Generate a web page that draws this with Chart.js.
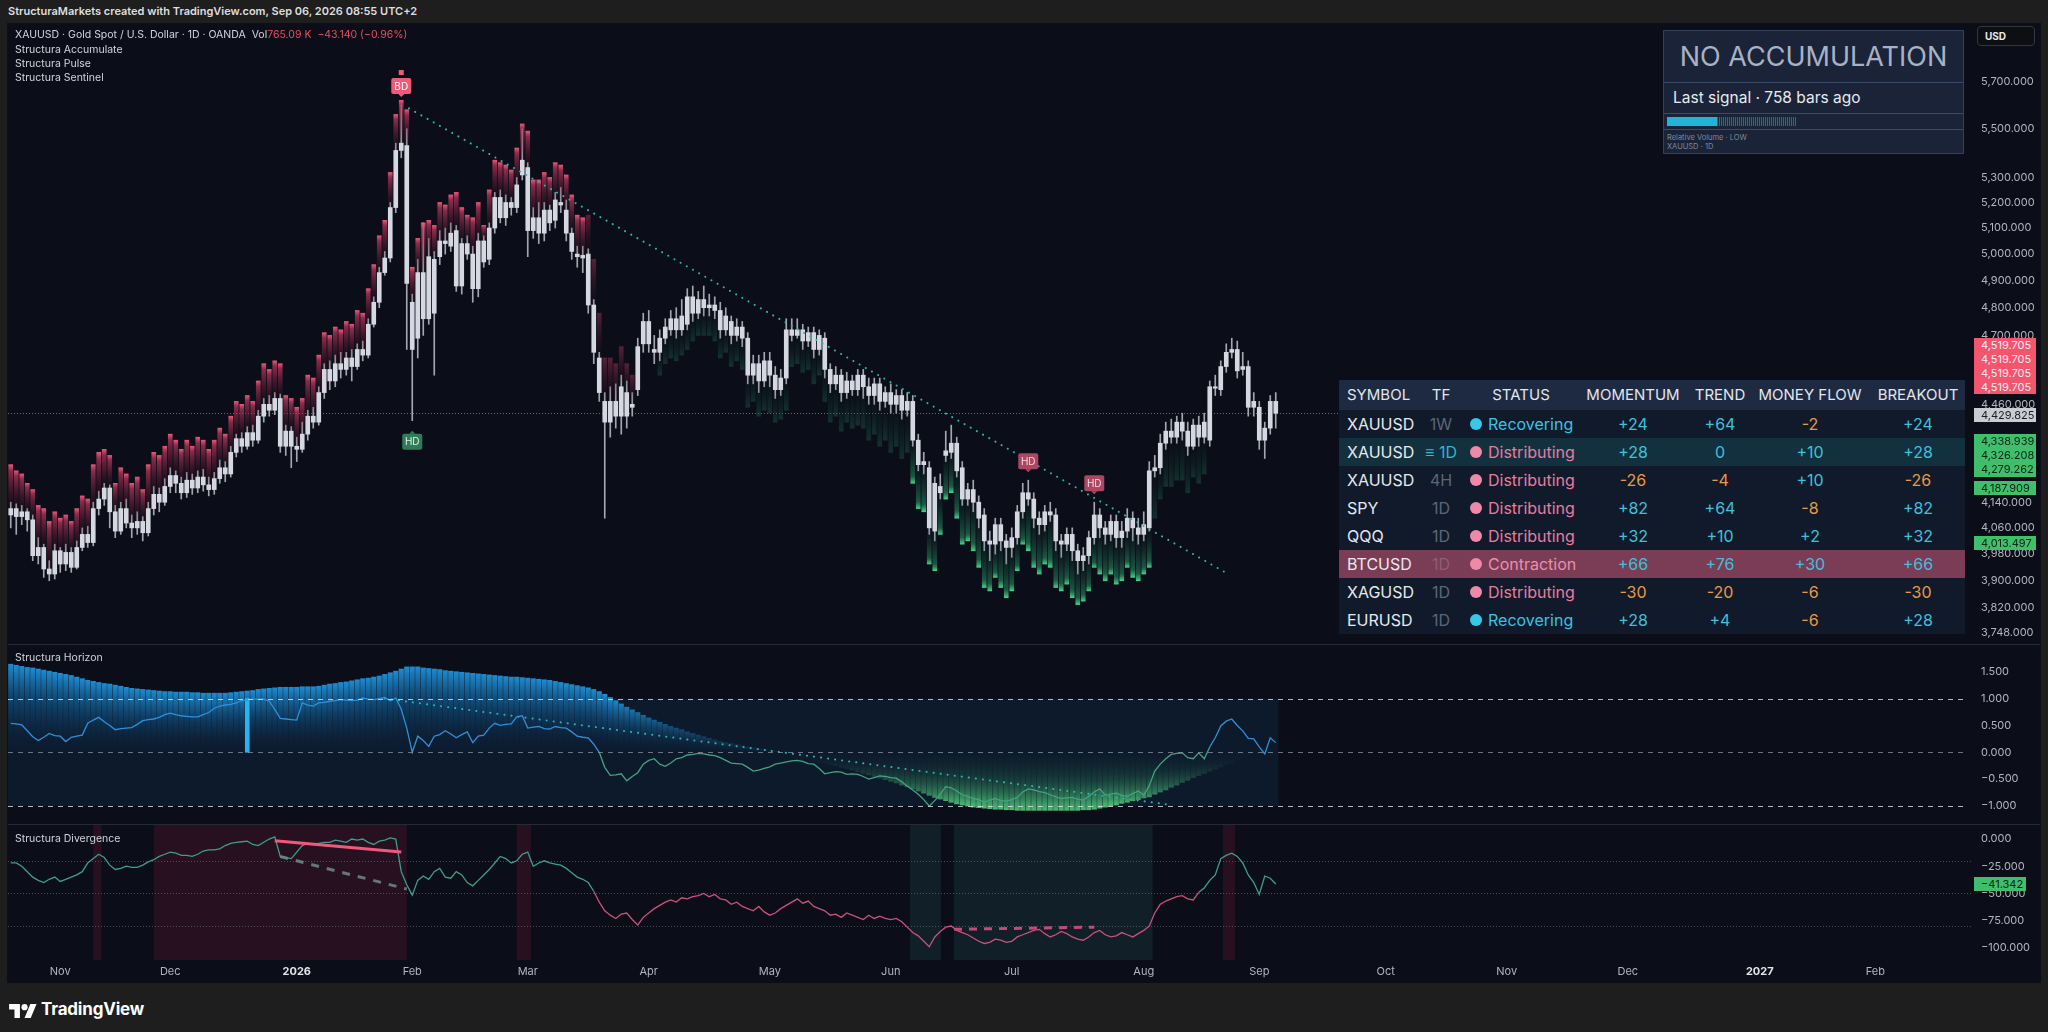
<!DOCTYPE html>
<html>
<head>
<meta charset="utf-8">
<title>XAUUSD · Structura</title>
<script src="https://cdn.jsdelivr.net/npm/chart.js@4.4.1/dist/chart.umd.min.js"></script>
<style>
  body { margin: 0; width: 2048px; height: 1032px; background: #1e1e1f; position: relative; overflow: hidden;
         font-family: Inter, "Noto Sans", sans-serif; color: #d1d4dc; }
  .abs { position: absolute; }
  .pane { position: absolute; left: 8px; width: 2032px; }
  .sep { position: absolute; left: 8px; width: 2032px; height: 1px; background: #252a36; }
  .legend { position: absolute; left: 15px; font-size: 10.5px; line-height: 14px; color: #d1d4dc; white-space: nowrap; }
  .tag { position: absolute; left: 1974px; width: 62px; font-size: 11px; line-height: 14px; padding-left: 7px; box-sizing: border-box; }
  .cell { position: absolute; white-space: nowrap; }
</style>
</head>
<body>
<div class="abs" style="left:8px;top:4px;font-size:11px;font-weight:600;color:#dedede;">StructuraMarkets created with TradingView.com, Sep 06, 2026 08:55 UTC+2</div>
<div class="abs" style="left:7px;top:23px;width:2034px;height:960px;background:#0b0e18;"></div>

<div class="pane" style="top:24px;height:621px;"><canvas id="mainChart"></canvas></div>
<div class="pane" style="top:645px;height:180px;"><canvas id="horizonChart"></canvas></div>
<div class="pane" style="top:825px;height:157px;"><canvas id="divChart"></canvas></div>
<div class="sep" style="top:644px;"></div>
<div class="sep" style="top:824px;"></div>

<div class="legend" style="top:28px;">XAUUSD · Gold Spot / U.S. Dollar · 1D · OANDA&nbsp; Vol<span style="color:#f04a5f">765.09 K&nbsp;&nbsp;−43.140 (−0.96%)</span></div>
<div class="legend" style="top:43px;">Structura Accumulate</div>
<div class="legend" style="top:57px;">Structura Pulse</div>
<div class="legend" style="top:71px;">Structura Sentinel</div>
<div class="legend" style="top:651px;">Structura Horizon</div>
<div class="legend" style="top:832px;">Structura Divergence</div>

<div class="abs" style="left:1977px;top:26px;width:58px;height:20px;box-sizing:border-box;border:1px solid #34373f;border-radius:4px;background:#0e0f13;font-size:10px;font-weight:700;color:#e8e8e8;line-height:18px;padding-left:7px;">USD</div>

<div class="abs" style="left:1663px;top:30px;width:301px;height:124px;box-sizing:border-box;background:#1a2337;border:1px solid #33415c;">
  <div style="height:51px;border-bottom:1px solid #3b4a66;font-size:27px;color:#a6b2c6;text-align:center;line-height:51px;">NO ACCUMULATION</div>
  <div style="height:30px;border-bottom:1px solid #3b4a66;font-size:15.5px;color:#e7eaf0;line-height:30px;padding-left:9px;">Last signal · 758 bars ago</div>
  <div style="height:15px;border-bottom:1px solid #3b4a66;position:relative;">
    <div class="abs" style="left:3px;top:3px;width:50px;height:9px;background:#22b4d6;"></div>
    <div class="abs" style="left:53px;top:3px;width:80px;height:9px;background:repeating-linear-gradient(90deg,#1f6f88 0 1px,#15293b 1px 2px);"></div>
  </div>
  <div style="font-size:7.5px;color:#7f899c;line-height:9px;padding:3px 3px;">Relative Volume · LOW<br>XAUUSD · 1D</div>
</div>

<div id="table" class="abs" style="left:1339px;top:380px;width:626px;height:256px;"></div>

<div class="tag" style="top:338px;height:56px;background:#f2566e;color:#ffe9ee;">4,519.705<br>4,519.705<br>4,519.705<br>4,519.705</div>
<div class="tag" style="top:408px;height:14px;background:#c9ccd3;color:#1b1d22;">4,429.825</div>
<div class="tag" style="top:434px;height:43px;background:#3fbf6c;color:#0c2414;">4,338.939<br>4,326.208<br>4,279.262</div>
<div class="tag" style="top:481px;height:14px;background:#3fbf6c;color:#0c2414;">4,187.909</div>
<div class="tag" style="top:536px;height:14px;background:#3fbf6c;color:#0c2414;">4,013.497</div>
<div class="tag" style="top:877px;height:14px;width:52px;background:#3fbf6c;color:#0c2414;">−41.342</div>

<div class="abs" style="left:9px;top:999px;display:flex;align-items:center;gap:4px;">
  <svg width="28" height="17" viewBox="0 0 36 22"><path fill="#fff" d="M14 22H7V11H0V4h14v18zM28 22h-8l7.5-18h8L28 22z"/><circle fill="#fff" cx="20" cy="8" r="4"/></svg>
  <span style="font-size:17px;font-weight:700;color:#fff;letter-spacing:-0.2px;">TradingView</span>
</div>

<script>
// ---- price data (daily bars, index 0 = late Oct 2025) ----
const opens = [4100,4120,4095,4110,4085,3975,4000,3935,3920,3990,3950,3985,3940,4000,4040,4015,4120,4150,4185,4110,
4050,4120,4075,4060,4080,4045,4120,4165,4140,4190,4225,4200,4170,4210,4185,4220,4195,4180,4215,4250,
4230,4300,4345,4320,4365,4340,4420,4460,4440,4480,4320,4370,4320,4310,4360,4420,4400,4500,4580,4540,
4600,4580,4620,4590,4650,4630,4740,4820,4930,4985,5180,5410,5430,4820,4690,4930,4760,4980,4990,5050,
5030,5090,4880,5040,5000,4870,5050,4980,5100,5220,5140,5200,5180,5310,5340,5090,5140,5080,5170,5130,
5200,5170,5080,5000,4995,5000,4810,4620,4470,4400,4470,4420,4500,4450,4510,4670,4750,4650,4640,4690,
4720,4760,4720,4740,4840,4780,4830,4800,4810,4790,4720,4750,4700,4730,4690,4560,4600,4540,4610,4560,
4510,4550,4720,4700,4720,4680,4710,4650,4690,4580,4530,4560,4500,4540,4510,4560,4520,4490,4530,4470,
4500,4460,4490,4440,4470,4340,4260,4250,4200,4190,4290,4300,4330,4250,4150,4180,4140,4100,4020,4010,
4070,4020,4000,4030,4110,4170,4150,4090,4070,4110,4100,4020,4010,4040,3990,3960,3975,4030,4100,4060,
4040,4080,4030,4050,4090,4060,4040,4060,4240,4250,4330,4370,4350,4400,4370,4320,4390,4350,4340,4520,
4510,4590,4640,4650,4580,4590,4450,4450,4340,4380,4470];
const highs = [4140,4135,4130,4120,4100,4030,4010,3960,4010,4000,4010,4000,4020,4060,4065,4140,4175,4200,4195,4130,
4140,4150,4100,4110,4095,4140,4190,4185,4215,4250,4240,4220,4235,4230,4240,4245,4220,4235,4275,4270,
4320,4360,4365,4385,4390,4440,4480,4490,4500,4495,4390,4385,4350,4400,4440,4450,4520,4600,4610,4630,
4640,4640,4650,4670,4680,4760,4840,4950,5010,5200,5440,5600,5500,4850,4980,5120,5060,5010,5090,5100,
5120,5110,5060,5070,5030,5080,5070,5120,5240,5250,5230,5220,5300,5500,5360,5180,5200,5200,5190,5240,
5260,5210,5100,5030,5030,5020,4830,4640,4500,4520,4530,4560,4540,4500,4690,4780,4790,4700,4720,4760,
4790,4800,4830,4870,4880,4860,4880,4850,4840,4820,4800,4770,4760,4750,4710,4630,4630,4640,4640,4590,
4580,4760,4760,4760,4740,4730,4730,4720,4710,4600,4590,4580,4570,4560,4580,4580,4550,4550,4550,4520,
4530,4510,4510,4500,4490,4360,4300,4270,4220,4230,4370,4390,4350,4270,4200,4210,4160,4120,4050,4090,
4090,4040,4060,4130,4200,4210,4170,4110,4130,4140,4120,4040,4060,4060,4010,4000,4050,4140,4120,4080,
4100,4100,4080,4120,4110,4090,4110,4270,4290,4360,4400,4410,4420,4430,4400,4410,4420,4430,4540,4560,
4610,4670,4690,4680,4640,4610,4500,4470,4400,4490,4500];
const lows = [4060,4040,4070,4050,3960,3950,3910,3900,3905,3925,3930,3925,3935,3990,4000,4005,4100,4130,4060,4030,
4040,4060,4030,4040,4020,4035,4100,4110,4130,4170,4170,4150,4155,4165,4170,4175,4160,4165,4200,4205,
4220,4285,4300,4310,4320,4330,4400,4420,4425,4300,4290,4250,4270,4300,4340,4380,4390,4480,4510,4520,
4550,4560,4540,4580,4610,4620,4730,4800,4920,4970,5160,5380,4650,4405,4620,4700,4740,4560,4960,5000,
5010,4860,4850,4980,4820,4840,4950,4960,5080,5120,5110,5150,5160,5290,4990,5060,5040,5050,5090,5100,
5160,5050,4980,4950,4930,4780,4600,4470,4090,4350,4380,4360,4380,4420,4490,4640,4640,4600,4610,4670,
4700,4690,4700,4720,4750,4760,4770,4770,4760,4690,4700,4670,4680,4660,4530,4530,4500,4520,4520,4480,
4490,4530,4680,4690,4650,4660,4620,4630,4550,4500,4510,4470,4480,4490,4490,4480,4460,4460,4440,4450,
4430,4430,4410,4420,4320,4240,4230,4040,4020,4150,4270,4280,4220,4130,4130,4110,4060,3990,3960,3980,
3990,3950,3970,4010,4090,4130,4060,4040,4050,4080,3990,3970,3990,3960,3920,3930,3950,4010,4030,4010,
4020,4000,4000,4030,4020,4010,4020,4050,4220,4230,4310,4330,4330,4340,4290,4310,4320,4330,4320,4490,
4490,4570,4620,4550,4560,4420,4420,4310,4280,4360,4380];
const closes = [4120,4095,4110,4085,3975,4000,3935,3920,3990,3950,3985,3940,4000,4040,4015,4120,4150,4185,4110,4050,
4120,4075,4060,4080,4045,4120,4165,4140,4190,4225,4200,4170,4210,4185,4220,4195,4180,4215,4250,4230,
4300,4345,4320,4365,4340,4420,4460,4440,4480,4320,4370,4320,4310,4360,4420,4400,4500,4580,4540,4600,
4580,4620,4590,4650,4630,4740,4820,4930,4985,5180,5410,5440,4890,4650,4930,4760,4990,4780,5050,5040,
5080,4880,5040,5000,4870,5050,4970,5100,5220,5140,5200,5180,5270,5370,5090,5140,5080,5170,5120,5210,
5190,5080,5010,4990,4985,4810,4640,4500,4400,4470,4420,4520,4420,4460,4660,4750,4670,4640,4690,4730,
4760,4720,4770,4840,4780,4830,4800,4810,4790,4720,4770,4700,4730,4690,4560,4600,4540,4610,4560,4510,
4550,4720,4700,4720,4680,4710,4650,4700,4580,4530,4560,4500,4540,4510,4560,4520,4490,4530,4470,4500,
4460,4490,4440,4470,4340,4260,4270,4060,4050,4170,4305,4330,4240,4150,4180,4140,4090,4020,4010,4070,
4020,4000,4030,4110,4170,4150,4090,4070,4110,4100,4020,4010,4040,3990,3960,3975,4030,4100,4060,4040,
4080,4030,4050,4090,4060,4040,4070,4240,4250,4330,4370,4350,4400,4370,4320,4390,4350,4400,4520,4515,
4590,4640,4650,4575,4590,4450,4470,4340,4380,4470,4429.825];

// Accumulate shading: pink caps above candles (from bar 0), green floors below candles (from bar 118)
const sellShadeFrom = 0;
const sellShadeTop = [4260,4240,4230,4200,4180,4130,4120,4080,4110,4090,4100,4080,4120,4160,4150,4260,4300,4310,4290,4200,
4250,4230,4200,4220,4180,4260,4300,4290,4320,4360,4340,4310,4340,4320,4350,4340,4310,4340,4380,4360,
4420,4470,4460,4490,4470,4540,4600,4580,4610,4600,4490,4480,4450,4480,4560,4550,4630,4710,4700,4730,
4720,4750,4740,4790,4780,4870,4960,5070,5130,5320,5560,5620,5580,4950,5060,5120,5130,5110,5200,5190,
5230,5240,5180,5150,5140,5200,5110,5250,5370,5360,5350,5330,5420,5520,5490,5290,5290,5320,5300,5360,
5350,5310,5230,5150,5140,5150,4980,4780,4620,4620,4600,4660,4600,4560];
const buyShadeFrom = 118;
const buyShadeBottom = [4560,4600,4620,4610,4630,4650,4680,4700,4700,4700,4680,4620,4640,4590,4610,4580,4450,4470,4420,4440,
4430,4400,4410,4440,4590,4600,4570,4580,4530,4560,4470,4400,4420,4370,4400,4380,4390,4380,4340,4360,
4320,4340,4300,4320,4280,4300,4200,4120,4110,3950,3930,4040,4150,4170,4090,4010,4020,3990,3940,3880,
3870,3910,3880,3850,3870,3930,4010,3990,3940,3920,3950,3940,3880,3870,3890,3850,3830,3840,3870,3940,
3920,3900,3920,3890,3900,3940,3910,3900,3920,3940,4090,4150,4190,4190,4210,4210,4170,4220,4200,4230];

const priceTicks = [5700,5500,5300,5200,5100,5000,4900,4800,4700,4460,4140,4060,3980,3900,3820,3748];
const trendBars = [72.4, 220.6];
const trendPrices = [5586, 3927];
const markerBars = [71, 73, 185, 197];
const markerText = ['BD', 'HD', 'HD', 'HD'];
const markerSide = ['top', 'bottom', 'top', 'top'];

// ---- Structura Horizon ----
const horizonHist = [1.64,1.62,1.60,1.58,1.57,1.55,1.53,1.51,1.49,1.47,1.45,1.43,1.40,1.37,1.34,1.32,1.30,1.28,1.27,1.25,
1.23,1.21,1.19,1.18,1.17,1.16,1.15,1.14,1.13,1.13,1.12,1.12,1.12,1.11,1.11,1.10,1.10,1.10,1.10,1.10,
1.11,1.12,1.13,1.14,1.15,1.17,1.18,1.19,1.20,1.21,1.21,1.21,1.21,1.22,1.22,1.22,1.23,1.25,1.27,1.28,
1.30,1.31,1.33,1.35,1.37,1.38,1.40,1.42,1.45,1.48,1.51,1.55,1.59,1.59,1.59,1.57,1.56,1.55,1.54,1.52,
1.51,1.50,1.49,1.48,1.47,1.46,1.45,1.44,1.43,1.42,1.41,1.40,1.40,1.39,1.38,1.37,1.36,1.35,1.34,1.32,
1.30,1.28,1.26,1.24,1.22,1.20,1.17,1.13,1.08,1.02,0.96,0.90,0.84,0.79,0.74,0.69,0.64,0.60,0.56,0.52,
0.48,0.45,0.42,0.38,0.35,0.32,0.29,0.26,0.23,0.20,0.18,0.16,0.14,0.12,0.10,0.08,0.06,0.05,0.03,0.02,
-0.01,-0.03,-0.05,-0.08,-0.10,-0.13,-0.15,-0.18,-0.20,-0.23,-0.25,-0.28,-0.30,-0.33,-0.36,-0.39,-0.42,-0.45,-0.48,-0.51,
-0.54,-0.57,-0.61,-0.64,-0.68,-0.72,-0.76,-0.80,-0.84,-0.87,-0.90,-0.93,-0.96,-0.98,-1.00,-1.02,-1.03,-1.04,-1.05,-1.06,
-1.06,-1.07,-1.07,-1.08,-1.08,-1.08,-1.08,-1.08,-1.08,-1.08,-1.08,-1.08,-1.08,-1.08,-1.08,-1.07,-1.07,-1.06,-1.04,-1.02,
-1.00,-0.98,-0.95,-0.93,-0.90,-0.88,-0.85,-0.83,-0.78,-0.74,-0.70,-0.65,-0.61,-0.56,-0.52,-0.47,-0.43,-0.39,-0.35,-0.31,
-0.27,-0.22,-0.18,-0.13,-0.09,-0.05,-0.02,0,0,0,0];
const horizonLine = [0.54,0.53,0.51,0.40,0.29,0.22,0.28,0.35,0.31,0.30,0.20,0.28,0.30,0.32,0.54,0.60,0.65,0.57,0.50,0.42,
0.44,0.45,0.46,0.52,0.59,0.61,0.62,0.65,0.70,0.73,0.70,0.68,0.67,0.66,0.66,0.70,0.74,0.82,0.86,0.88,
0.89,0.92,0.96,0.97,0.99,0.99,0.99,0.95,0.80,0.63,0.62,0.61,0.60,0.92,0.88,0.86,0.92,0.93,0.95,0.96,
0.98,0.97,0.96,0.97,1.01,0.99,0.98,1.00,1.02,0.96,1.01,0.80,0.45,0.00,0.30,0.22,0.11,0.30,0.33,0.40,
0.34,0.27,0.33,0.38,0.18,0.30,0.32,0.45,0.54,0.50,0.52,0.53,0.66,0.68,0.45,0.47,0.48,0.44,0.43,0.48,
0.46,0.45,0.38,0.30,0.28,0.27,0.15,0.00,-0.28,-0.43,-0.42,-0.40,-0.53,-0.45,-0.38,-0.22,-0.15,-0.12,-0.22,-0.26,
-0.20,-0.12,-0.10,-0.05,-0.04,-0.02,-0.03,-0.05,-0.06,-0.10,-0.15,-0.20,-0.21,-0.22,-0.28,-0.35,-0.33,-0.30,-0.27,-0.22,
-0.20,-0.18,-0.16,-0.15,-0.17,-0.21,-0.22,-0.30,-0.40,-0.38,-0.36,-0.37,-0.41,-0.40,-0.41,-0.45,-0.50,-0.47,-0.44,-0.45,
-0.47,-0.48,-0.55,-0.63,-0.70,-0.78,-0.88,-1.00,-0.90,-0.78,-0.64,-0.66,-0.72,-0.79,-0.82,-0.86,-0.88,-0.93,-0.89,-0.86,
-0.90,-0.91,-0.88,-0.84,-0.74,-0.68,-0.70,-0.73,-0.75,-0.79,-0.83,-0.86,-0.85,-0.84,-0.87,-0.89,-0.82,-0.74,-0.68,-0.80,
-0.78,-0.76,-0.80,-0.82,-0.77,-0.72,-0.80,-0.62,-0.35,-0.22,-0.12,-0.04,-0.02,-0.01,-0.10,-0.12,-0.01,-0.12,0.10,0.27,
0.49,0.58,0.62,0.50,0.40,0.26,0.25,0.10,-0.03,0.27,0.18];
const horizonTicks = [1.5, 1, 0.5, 0, -0.5, -1];
const horizonLevels = [1, 0, -1];
const signalBars = [43];
const signalValues = [1.0];
const horizonTrendBars = [68, 211];
const horizonTrendValues = [1.0, -0.98];

// ---- Structura Divergence ----
const divLine = [-22,-22,-25,-30,-35,-38,-40,-37,-35,-39,-37,-35,-33,-30,-22,-18,-14,-17,-24,-28,
-27,-25,-26,-26,-24,-21,-19,-16,-14,-12,-13,-15,-15,-16,-14,-11,-10,-10,-9,-6,
-4,-3,-2.5,-2,-5,-6,-3,0,2,-16,-17,-18,-12,-6,-4,-5,-4,-3,-3,-1,
-2,-3,0,-1,0,-3,-5,-2,-1,1,0,-30,-42,-51.6,-38,-34,-37,-30,-27,-35,
-36,-30,-33,-40,-43,-38,-33,-28,-22,-16,-18,-22,-20,-14,-12,-25,-22,-20,-22,-23,
-24,-27,-31,-35,-37,-40,-48,-58,-66,-70,-73,-69,-68,-74,-79,-72,-68,-64,-61,-58,
-56,-58,-54,-55,-53,-52,-50,-53,-51,-55,-56,-60,-58,-62,-64,-66,-62,-67,-70,-68,
-64,-61,-58,-55,-59,-57,-62,-64,-66,-70,-69,-72,-68,-70,-72,-74,-70,-73,-71,-73,
-74,-73,-76,-81,-86,-89,-94,-99,-90,-85,-81,-80,-84,-86,-88,-91,-94,-96,-95,-92,
-93,-95,-94,-90,-88,-86,-84,-83,-87,-90,-88,-85,-87,-90,-92,-93,-90,-86,-84,-88,
-90,-89,-86,-88,-90,-87,-84,-80,-68,-60,-57,-55,-53,-52,-55,-56,-49,-45,-38,-33,
-18,-15,-13,-16,-22,-33,-40,-51,-34,-36,-41.342];
const divTicks = [0, -25, -50, -75, -100];
const divLevels = [-20, -50, -80];
const bearZones = [[26, 72], [15, 16.5], [92, 94.6], [220.4, 222.6]];
const bullZones = [[163.5, 169.1], [171.5, 207.6]];
const bearDivBars = [48, 71], bearDivValues = [-1.6, -12];
const hiddenDivBars = [49, 72], hiddenDivValues = [-16, -46];
const bullDivBars = [171.5, 197], bullDivValues = [-83, -81];

// ---- time axis ----
const monthLabels = ['Nov','Dec','2026','Feb','Mar','Apr','May','Jun','Jul','Aug','Sep','Oct','Nov','Dec','2027','Feb'];
const monthBars = [9, 29, 52, 73, 94, 116, 138, 160, 182, 206, 227, 250, 272, 294, 318, 339];

// ---- watchlist table ----
const tableSymbols = ['XAUUSD','XAUUSD','XAUUSD','SPY','QQQ','BTCUSD','XAGUSD','EURUSD'];
const tableTf = ['1W','≡ 1D','4H','1D','1D','1D','1D','1D'];
const tableStatus = ['Recovering','Distributing','Distributing','Distributing','Distributing','Contraction','Distributing','Recovering'];
const tableMomentum = [24, 28, -26, 82, 32, 66, -30, 28];
const tableTrend = [64, 0, -4, 64, 10, 76, -20, 4];
const tableMoneyFlow = [-2, 10, 10, -8, 2, 30, -6, -6];
const tableBreakout = [24, 28, -26, 82, 32, 66, -30, 28];

// ------------------------------------------------------------------
Chart.defaults.font.family = 'Inter, "Noto Sans", sans-serif';

const X_MIN = -0.5, X_MAX = 354.77, AXIS_W = 78;

function fmt(v, d) {
    return (v < 0 ? '\u2212' : '') + Math.abs(v).toLocaleString('en-US', {minimumFractionDigits: d, maximumFractionDigits: d});
}

function lockAxis(scale) {
    scale.width = AXIS_W;
    scale.paddingTop = 0;
    scale.paddingBottom = 0;
}

function yAxis(extra, ticks, digits) {
    return Object.assign({
        position: 'right',
        grid: {display: false, drawTicks: false},
        border: {display: false},
        afterFit: lockAxis,
        afterBuildTicks: s => { s.ticks = ticks.map(v => ({value: v})); },
        ticks: {color: '#b2b5be', padding: 19, font: {size: 11}, autoSkip: false, callback: v => fmt(v, digits)}
    }, extra);
}

function hiddenX() {
    return {type: 'linear', min: X_MIN, max: X_MAX, offset: false, display: false};
}

const baseOptions = {
    responsive: true,
    maintainAspectRatio: false,
    animation: false,
    events: [],
    layout: {padding: 0},
    plugins: {legend: {display: false}, tooltip: {enabled: false}}
};

// gradient along a column, stop 0 at the y[1] end
function columnFill(pick) {
    return c => {
        if (c.type !== 'data' || !c.raw) return 'rgba(0,0,0,0)';
        const stops = pick(c.raw);
        const ys = c.chart.scales.y;
        const from = ys.getPixelForValue(c.raw.y[1]);
        const to = ys.getPixelForValue(c.raw.y[0]);
        if (!isFinite(from) || !isFinite(to) || Math.abs(from - to) < 0.5) return stops[0][1];
        const g = c.chart.ctx.createLinearGradient(0, from, 0, to);
        stops.forEach(s => g.addColorStop(s[0], s[1]));
        return g;
    };
}

const SELL_STRONG = [[0, 'rgba(245,90,126,0.95)'], [0.14, 'rgba(190,56,96,0.72)'], [1, 'rgba(80,22,46,0.10)']];
const SELL_SOFT = [[0, 'rgba(140,46,76,0.6)'], [1, 'rgba(60,20,40,0.05)']];
const BUY_STRONG = [[0, 'rgba(72,222,140,0.95)'], [0.16, 'rgba(42,150,104,0.55)'], [1, 'rgba(20,70,60,0.05)']];
const BUY_SOFT = [[0, 'rgba(30,92,76,0.45)'], [1, 'rgba(15,45,42,0.02)']];
const MARKER_STYLE = {
    'BD-top': {fill: '#ee5a78', text: '#ffffff'},
    'HD-bottom': {fill: '#2e7d57', text: '#dff3e6'},
    'HD-top': {fill: '#ad4660', text: '#f6dbe2'}
};

// horizon column colours fade with the size of the reading
function horizonStops(v) {
    const m = Math.min(1, Math.abs(v));
    if (v >= 0) {
        const f = 0.15 + 0.85 * Math.pow(m, 1.3);
        return [[0, 'rgba(32,146,218,' + (0.95 * f) + ')'], [0.45, 'rgba(16,84,136,' + (0.6 * f) + ')'], [1, 'rgba(10,32,58,0.08)']];
    }
    const f = Math.pow(m, 1.8);
    return [[0, 'rgba(84,208,126,' + (0.9 * f) + ')'], [0.5, 'rgba(38,110,80,' + (0.45 * f) + ')'], [1, 'rgba(18,50,48,0.03)']];
}

function dottedLine(xsArr, ysArr) {
    return {
        type: 'line',
        data: xsArr.map((x, k) => ({x: x, y: ysArr[k]})),
        borderColor: '#2db5ae', borderWidth: 2, borderDash: [0.1, 7], borderCapStyle: 'round',
        pointRadius: 0, order: 0
    };
}

// ---------------- main pane ----------------
const bodyData = closes.map((c, i) => ({x: i, y: [opens[i], c]}));
const wickData = closes.map((c, i) => ({x: i, y: [lows[i], highs[i]]}));
const sellShade = sellShadeTop.map((v, k) => {
    const i = sellShadeFrom + k;
    return {x: i, y: [Math.max(opens[i], closes[i]), v]};
});
const buyShade = buyShadeBottom.map((v, k) => {
    const i = buyShadeFrom + k;
    return {x: i, y: [Math.min(opens[i], closes[i]), v]};
});

const mainDecor = {
    id: 'mainDecor',
    beforeDatasetsDraw(chart) {
        const {ctx, chartArea: a, scales: {y}} = chart;
        const py = Math.round(y.getPixelForValue(closes[closes.length - 1])) + 0.5;
        ctx.save();
        ctx.strokeStyle = 'rgba(170,175,185,0.6)';
        ctx.lineWidth = 1;
        ctx.setLineDash([1, 2]);
        ctx.beginPath(); ctx.moveTo(a.left, py); ctx.lineTo(a.right, py); ctx.stroke();
        ctx.restore();
    },
    afterDatasetsDraw(chart) {
        const {ctx, scales: {x, y}} = chart;
        ctx.save();
        ctx.font = '10px Inter, "Noto Sans", sans-serif';
        ctx.textAlign = 'center';
        ctx.textBaseline = 'middle';
        markerBars.forEach((i, k) => {
            const top = markerSide[k] === 'top';
            const style = MARKER_STYLE[markerText[k] + '-' + markerSide[k]];
            const px = x.getPixelForValue(i);
            const anchor = y.getPixelForValue(top ? highs[i] : lows[i]);
            const cy = anchor + (top ? -19 : 21);
            const w = 20, h = 16;
            ctx.fillStyle = style.fill;
            ctx.beginPath(); ctx.roundRect(px - w / 2, cy - h / 2, w, h, 2); ctx.fill();
            ctx.beginPath();
            if (top) { ctx.moveTo(px - 3, cy + h / 2); ctx.lineTo(px + 3, cy + h / 2); ctx.lineTo(px, cy + h / 2 + 3); }
            else { ctx.moveTo(px - 3, cy - h / 2); ctx.lineTo(px + 3, cy - h / 2); ctx.lineTo(px, cy - h / 2 - 3); }
            ctx.fill();
            if (markerText[k] === 'BD') ctx.fillRect(px - 2.5, cy - h / 2 - 8, 5, 5);
            ctx.fillStyle = style.text;
            ctx.fillText(markerText[k], px, cy + 0.5);
        });
        ctx.restore();
    }
};

new Chart(document.getElementById('mainChart'), {
    type: 'bar',
    data: {
        datasets: [
            {type: 'bar', data: wickData, backgroundColor: '#a4a7b1', barThickness: 1, grouped: false, order: 4, borderWidth: 0},
            {type: 'bar', data: sellShade, backgroundColor: columnFill(r => r.x <= 104 ? SELL_STRONG : SELL_SOFT),
             barThickness: 4, grouped: false, order: 3, borderWidth: 0},
            {type: 'bar', data: buyShade, backgroundColor: columnFill(r => (r.x >= 164 && r.x <= 207) ? BUY_STRONG : BUY_SOFT),
             barThickness: 4, grouped: false, order: 3, borderWidth: 0},
            {type: 'bar', data: bodyData, backgroundColor: '#d5d8e0', barThickness: 4, grouped: false, order: 1,
             borderWidth: 0, minBarLength: 1},
            dottedLine(trendBars, trendPrices)
        ]
    },
    options: Object.assign({}, baseOptions, {
        scales: {
            x: hiddenX(),
            y: yAxis({type: 'logarithmic', min: 3714, max: 5956}, priceTicks, 3)
        }
    }),
    plugins: [mainDecor]
});

// ---------------- horizon pane ----------------
const histData = horizonHist.map((v, i) => ({x: i, y: [0, v]})).filter(d => d.y[1] !== 0);
const signalData = signalBars.map((b, k) => ({x: b, y: [0, signalValues[k]]}));

const horizonDecor = {
    id: 'horizonDecor',
    beforeDatasetsDraw(chart) {
        const {ctx, scales: {x, y}} = chart;
        const x0 = x.getPixelForValue(-0.5), x1 = x.getPixelForValue(closes.length - 0.5);
        const y0 = y.getPixelForValue(1), y1 = y.getPixelForValue(-1);
        ctx.save();
        ctx.fillStyle = '#0d1a2c';
        ctx.fillRect(x0, y0, x1 - x0, y1 - y0);
        ctx.restore();
    },
    afterDatasetsDraw(chart) {
        const {ctx, chartArea: a, scales: {y}} = chart;
        ctx.save();
        ctx.lineWidth = 1;
        ctx.setLineDash([5, 5]);
        horizonLevels.forEach(v => {
            const py = Math.round(y.getPixelForValue(v)) + 0.5;
            ctx.strokeStyle = v === 0 ? 'rgba(150,155,168,0.7)' : 'rgba(225,228,235,0.8)';
            ctx.beginPath(); ctx.moveTo(a.left, py); ctx.lineTo(a.right + 6, py); ctx.stroke();
        });
        ctx.restore();
    }
};

new Chart(document.getElementById('horizonChart'), {
    type: 'bar',
    data: {
        datasets: [
            {type: 'bar', data: histData, backgroundColor: columnFill(r => horizonStops(r.y[1])),
             barThickness: 4.5, grouped: false, order: 3, borderWidth: 0},
            {type: 'bar', data: signalData, backgroundColor: '#27b4f2', barThickness: 4, grouped: false, order: 2, borderWidth: 0},
            Object.assign(dottedLine(horizonTrendBars, horizonTrendValues), {order: 1}),
            {type: 'line', data: horizonLine.map((v, i) => ({x: i, y: v})), borderWidth: 1.3, pointRadius: 0, order: 0,
             borderColor: '#2f90d8',
             segment: {borderColor: s => (s.p0.parsed.y + s.p1.parsed.y) / 2 >= 0 ? '#2f90d8' : '#43a37e'}}
        ]
    },
    options: Object.assign({}, baseOptions, {
        scales: {
            x: hiddenX(),
            y: yAxis({type: 'linear', min: -1.353, max: 1.997}, horizonTicks, 3)
        }
    }),
    plugins: [horizonDecor]
});

// ---------------- divergence pane ----------------
const divDecor = {
    id: 'divDecor',
    beforeDatasetsDraw(chart) {
        const {ctx, chartArea: a, scales: {x, y}} = chart;
        ctx.save();
        const zone = (z, color) => {
            const x0 = x.getPixelForValue(z[0]), x1 = x.getPixelForValue(z[1]);
            ctx.fillStyle = color;
            ctx.fillRect(x0, a.top, x1 - x0, a.bottom - a.top);
        };
        bearZones.forEach(z => zone(z, 'rgba(118,28,62,0.26)'));
        bullZones.forEach(z => zone(z, 'rgba(36,92,92,0.24)'));
        ctx.strokeStyle = 'rgba(120,126,140,0.55)';
        ctx.lineWidth = 1;
        ctx.setLineDash([1, 2]);
        divLevels.forEach(v => {
            const py = Math.round(y.getPixelForValue(v)) + 0.5;
            ctx.beginPath(); ctx.moveTo(a.left, py); ctx.lineTo(a.right + 10, py); ctx.stroke();
        });
        ctx.restore();
    }
};

function segLine(bars, vals, color, dash) {
    return {type: 'line', data: bars.map((b, k) => ({x: b, y: vals[k]})), borderColor: color, borderWidth: 3,
            borderDash: dash, pointRadius: 0, order: 0};
}

new Chart(document.getElementById('divChart'), {
    type: 'line',
    data: {
        datasets: [
            {data: divLine.map((v, i) => ({x: i, y: v})), borderWidth: 1.3, pointRadius: 0, order: 1,
             borderColor: '#3f9d8b',
             segment: {borderColor: s => (s.p0.parsed.y < -45 && s.p1.parsed.y < -45) ? '#cc4f7d' : '#3f9d8b'}},
            segLine(bearDivBars, bearDivValues, '#f0597b', []),
            segLine(hiddenDivBars, hiddenDivValues, 'rgba(110,140,132,0.85)', [8, 8]),
            segLine(bullDivBars, bullDivValues, '#c44b75', [8, 7])
        ]
    },
    options: Object.assign({}, baseOptions, {
        scales: {
            x: {
                type: 'linear', min: X_MIN, max: X_MAX, offset: false, position: 'bottom',
                grid: {display: false, drawTicks: false}, border: {display: false},
                afterBuildTicks: s => { s.ticks = monthBars.map(v => ({value: v})); },
                afterFit: s => { s.height = 22; s.paddingLeft = 0; s.paddingRight = 0; },
                ticks: {
                    autoSkip: false, maxRotation: 0, padding: 5,
                    callback: (v, i) => monthLabels[i],
                    color: c => /^\d{4}$/.test(monthLabels[c.index]) ? '#e3e5ea' : '#b2b5be',
                    font: c => ({size: 11, weight: /^\d{4}$/.test(monthLabels[c.index]) ? '700' : '400'})
                }
            },
            y: yAxis({type: 'linear', min: -111.2, max: 12.9}, divTicks, 3)
        }
    }),
    plugins: [divDecor]
});

// ---------------- watchlist table ----------------
function signed(v) { return v > 0 ? '+' + v : String(v); }

function buildTable() {
    const el = document.getElementById('table');
    const cols = {symbol: 8, tf: 102, dot: 137, status: 149, momentum: 294, trend: 381, money: 471, breakout: 579};
    let html = '<div class="abs" style="left:0;top:0;width:626px;height:30px;background:#1d2a41"></div>';
    const head = [['SYMBOL', cols.symbol, 'left'], ['TF', cols.tf, 'center'], ['STATUS', 182, 'center'],
                  ['MOMENTUM', cols.momentum, 'center'], ['TREND', cols.trend, 'center'],
                  ['MONEY FLOW', cols.money, 'center'], ['BREAKOUT', cols.breakout, 'center']];
    head.forEach(h => {
        const pos = h[2] === 'left' ? 'left:' + h[1] + 'px;' : 'left:' + (h[1] - 70) + 'px;width:140px;text-align:center;';
        html += '<div class="cell" style="' + pos + 'top:0;line-height:30px;font-size:15px;color:#e2e6ee">' + h[0] + '</div>';
    });
    tableSymbols.forEach((sym, r) => {
        const top = 30 + r * 28;
        const bg = r === 1 ? '#13303f' : (tableStatus[r] === 'Contraction' ? '#7b3c56' : '#101a2b');
        const recovering = tableStatus[r] === 'Recovering';
        const statusColor = recovering ? '#35c4e4' : (tableStatus[r] === 'Contraction' ? '#eb8fab' : '#ea7b9d');
        const dotColor = recovering ? '#35c8e8' : '#ee8aa8';
        const tfColor = r === 1 ? '#36b3d6' : (tableStatus[r] === 'Contraction' ? '#8d5f73' : '#5d6678');
        html += '<div class="abs" style="left:0;top:' + top + 'px;width:626px;height:28px;background:' + bg + '"></div>';
        const line = 'top:' + top + 'px;line-height:28px;font-size:16px;';
        html += '<div class="cell" style="' + line + 'left:' + cols.symbol + 'px;color:#e6e9ef">' + sym + '</div>';
        html += '<div class="cell" style="' + line + 'left:' + (cols.tf - 30) + 'px;width:60px;text-align:center;color:' + tfColor + '">' + tableTf[r] + '</div>';
        html += '<div class="abs" style="left:' + (cols.dot - 6) + 'px;top:' + (top + 8) + 'px;width:12px;height:12px;border-radius:6px;background:' + dotColor + '"></div>';
        html += '<div class="cell" style="' + line + 'left:' + cols.status + 'px;color:' + statusColor + '">' + tableStatus[r] + '</div>';
        [[tableMomentum, cols.momentum], [tableTrend, cols.trend], [tableMoneyFlow, cols.money], [tableBreakout, cols.breakout]].forEach(c => {
            const v = c[0][r];
            html += '<div class="cell" style="' + line + 'left:' + (c[1] - 40) + 'px;width:80px;text-align:center;color:' +
                    (v < 0 ? '#e79b45' : '#3fc0db') + '">' + signed(v) + '</div>';
        });
    });
    el.innerHTML = html;
}
buildTable();
</script>
</body>
</html>
